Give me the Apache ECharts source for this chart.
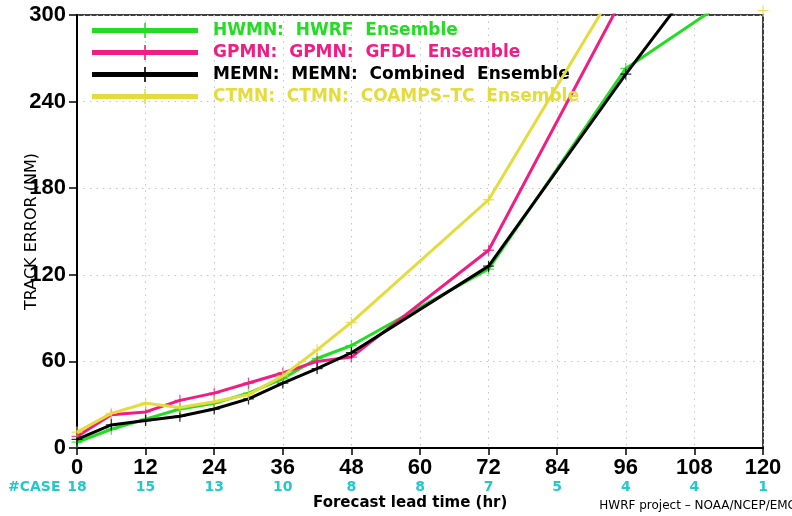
<!DOCTYPE html>
<html>
<head>
	<meta charset="utf-8" />
	<title>Track error</title>
	<script src="https://cdn.jsdelivr.net/npm/echarts@6/dist/echarts.min.js"></script>
	<style>
		html, body { margin: 0; padding: 0; background: #fff; }
		#main { width: 792px; height: 516px; }
	</style>
</head>
<body>
	<div id="main"></div>
	<script type="text/javascript">
		// forecast hours that have a value
		var hours = [0, 6, 12, 18, 24, 30, 36, 42, 48, 72, 96, 120];
		// track error (NM) per model
		var hwmn = [4, 13, 20, 27, 31, 38, 48, 62, 71, 124, 263, 327];
		var gpmn = [8, 23, 25, 33, 38, 45, 52, 60, 63, 137, 316, 350];
		var memn = [6, 16, 19, 22, 27, 34, 45, 55, 66, 126, 259, 385];
		var ctmn = [11, 24, 31, 28, 32, 37, 50, 68, 87, 172, 330, 303];
		// number of cases under each x tick
		var xTicks = [0, 12, 24, 36, 48, 60, 72, 84, 96, 108, 120];
		var cases = [18, 15, 13, 10, 8, 8, 7, 5, 4, 4, 1];
		var names = ['HWMN:  HWRF  Ensemble', 'GPMN:  GPMN:  GFDL  Ensemble', 'MEMN:  MEMN:  Combined  Ensemble', 'CTMN:  CTMN:  COAMPS\u2013TC  Ensemble'];
		var colors = ['#22dd22', '#f01e82', '#000000', '#e4dc3a'];

		var cyan = '#22c8cc';
		var plus = 'path://M5.3,0 L6.7,0 L6.7,5.3 L12,5.3 L12,6.7 L6.7,6.7 L6.7,12 L5.3,12 L5.3,6.7 L0,6.7 L0,5.3 L5.3,5.3 Z';
		var legendIcon = 'path://M0,5 L106,5 L106,10 L0,10 Z M52.2,0 L53.8,0 L53.8,15 L52.2,15 Z';

		function pairs(vals) {
			var out = [];
			for (var i = 0; i < hours.length; i++) {
				if (vals[i] != null) out.push([hours[i], vals[i]]);
			}
			return out;
		}

		var all = [hwmn, gpmn, memn, ctmn];
		var series = [];
		for (var i = 0; i < all.length; i++) {
			series.push({
				name: names[i],
				type: 'line',
				data: pairs(all[i]),
				symbol: 'none',
				color: colors[i],
				lineStyle: { width: 3, color: colors[i] },
				z: 2 + i
			});
		}
		// the "+" marks are not clipped (one sits just above the frame)
		for (var i = 0; i < all.length; i++) {
			series.push({
				name: 'pt' + i,
				type: 'scatter',
				data: pairs(all[i]),
				symbol: plus,
				symbolSize: 11,
				clip: false,
				itemStyle: { color: colors[i] },
				z: 2 + i
			});
		}

		var legendData = [];
		for (var i = 0; i < names.length; i++) {
			legendData.push({ name: names[i], icon: legendIcon, textStyle: { color: colors[i] } });
		}

		var myChart = echarts.init(document.getElementById('main'));
		var option = {
			animation: false,
			backgroundColor: '#fff',
			grid: {
				left: 77, right: 29, top: 15, bottom: 68,
				show: true, borderColor: '#000', borderWidth: 1.5
			},
			legend: {
				data: legendData,
				orient: 'vertical',
				left: 92, top: 22,
				padding: 0,
				itemWidth: 106, itemHeight: 15,
				itemGap: 5,
				selectedMode: false,
				textStyle: {
					fontFamily: 'DejaVu Sans', fontWeight: 'bold', fontSize: 17,
					lineHeight: 16, padding: [0, 0, 0, 10]
				}
			},
			xAxis: {
				type: 'value',
				min: 0, max: 120, interval: 12,
				axisLine: { lineStyle: { color: '#000', width: 2 } },
				axisTick: { length: 7, lineStyle: { color: '#000', width: 1.5 } },
				splitLine: { show: true, lineStyle: { color: '#c4c4c4', type: [1.5, 5] } },
				axisLabel: {
					margin: 10,
					formatter: function(v) {
						var k = xTicks.indexOf(v);
						return '{t|' + v + '}\n{c|' + (k >= 0 ? cases[k] : '') + '}';
					},
					rich: {
						t: { fontFamily: 'Liberation Sans Narrow, Liberation Sans', fontWeight: 'bold', fontSize: 22, lineHeight: 20, color: '#000' },
						c: { fontFamily: 'DejaVu Sans', fontWeight: 'bold', fontSize: 14, lineHeight: 19, color: cyan }
					}
				}
			},
			yAxis: {
				type: 'value',
				min: 0, max: 300, interval: 60,
				name: 'TRACK ERROR (NM)',
				nameLocation: 'middle',
				nameRotate: 90,
				nameGap: 37,
				nameMoveOverlap: false,
				nameTextStyle: { fontFamily: 'DejaVu Sans', fontSize: 16, color: '#000' },
				axisLine: { lineStyle: { color: '#000', width: 2 } },
				axisTick: { length: 8, lineStyle: { color: '#000', width: 1.5 } },
				splitLine: { show: true, lineStyle: { color: '#c4c4c4', type: [1.5, 5] } },
				axisLabel: {
					margin: 11,
					color: '#000',
					fontFamily: 'Liberation Sans Narrow, Liberation Sans', fontWeight: 'bold', fontSize: 22
				}
			},
			graphic: [{
				type: 'text', left: 8, top: 480,
				style: { text: '#CASE', fill: cyan, font: 'bold 14px "DejaVu Sans"' }
			}, {
				type: 'text', left: 313, top: 496,
				style: { text: 'Forecast lead time (hr)', fill: '#000', font: 'bold 15px "DejaVu Sans"' }
			}, {
				type: 'text', right: -4, top: 500,
				style: { text: 'HWRF project \u2013 NOAA/NCEP/EMC', fill: '#000', font: '12px "DejaVu Sans"' }
			}],
			series: series
		};
		myChart.setOption(option);
	</script>
</body>
</html>
